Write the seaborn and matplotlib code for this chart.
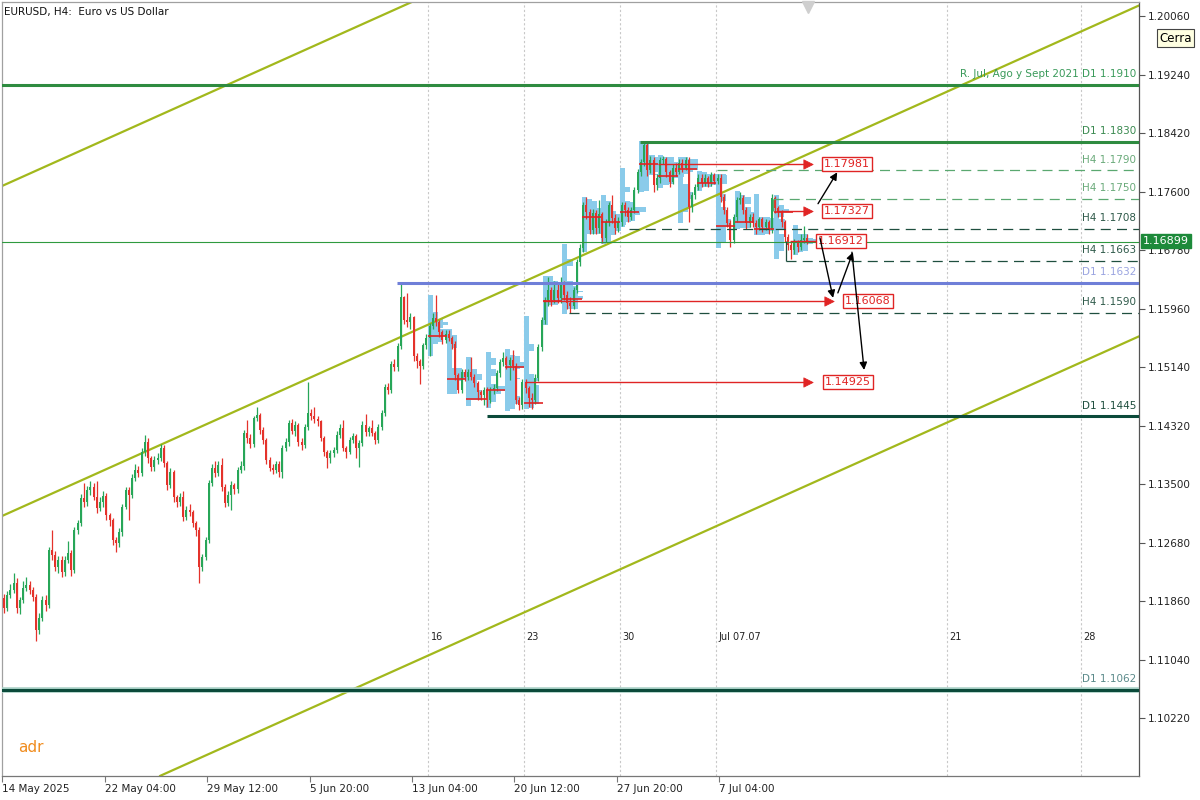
import numpy as np
import pandas as pd
import matplotlib
matplotlib.use('Agg')
import matplotlib.pyplot as plt
import matplotlib.transforms as mtransforms
import seaborn as sns

# ---- datos (precios en puntos de 0.0001) ----
first_open = 11190
close_pts = [
    11176, 11195, 11202, 11212, 11176, 11188, 11204, 11209, 11202, 11192,
    11146, 11163, 11188, 11180, 11258, 11251, 11234, 11244, 11227, 11244,
    11253, 11230, 11286, 11296, 11331, 11325, 11342, 11346, 11332, 11317,
    11325, 11333, 11307, 11300, 11272, 11267, 11283, 11318, 11342, 11335,
    11359, 11370, 11366, 11395, 11409, 11387, 11374, 11384, 11387, 11401,
    11380, 11349, 11367, 11332, 11325, 11332, 11304, 11314, 11311, 11296,
    11286, 11234, 11248, 11272, 11352, 11373, 11366, 11377, 11346, 11323,
    11335, 11349, 11343, 11370, 11375, 11422, 11415, 11406, 11443, 11447,
    11426, 11412, 11384, 11373, 11370, 11378, 11367, 11401, 11409, 11436,
    11425, 11433, 11409, 11405, 11430, 11450, 11445, 11441, 11438, 11415,
    11395, 11387, 11394, 11398, 11419, 11429, 11400, 11395, 11412, 11418,
    11400, 11408, 11433, 11423, 11429, 11422, 11412, 11430, 11450, 11486,
    11482, 11518, 11514, 11544, 11612, 11580, 11577, 11584, 11530, 11523,
    11516, 11545, 11555, 11572, 11583, 11577, 11563, 11552, 11560, 11555,
    11546, 11503, 11482, 11507, 11500, 11507, 11500, 11492, 11479, 11475,
    11482, 11468, 11482, 11485, 11506, 11521, 11527, 11517, 11524, 11516,
    11468, 11461, 11493, 11485, 11471, 11468, 11499, 11542, 11580, 11608,
    11622, 11608, 11622, 11611, 11629, 11615, 11604, 11600, 11622, 11661,
    11681, 11741, 11731, 11706, 11730, 11709, 11729, 11695, 11717, 11741,
    11723, 11709, 11717, 11741, 11734, 11724, 11734, 11762, 11787, 11801,
    11825, 11790, 11804, 11769, 11779, 11804, 11806, 11787, 11773, 11793,
    11787, 11800, 11793, 11804, 11738, 11755, 11766, 11779, 11772, 11779,
    11772, 11783, 11775, 11779, 11752, 11734, 11716, 11692, 11724, 11748,
    11751, 11734, 11716, 11724, 11716, 11710, 11721, 11710, 11717, 11706,
    11751, 11737, 11731, 11717, 11696, 11685, 11678, 11689, 11682, 11692,
    11695, 11690]
high_pts = [
    11196, 11200, 11210, 11225, 11218, 11192, 11214, 11220, 11214, 11206,
    11196, 11170, 11194, 11195, 11262, 11286, 11256, 11250, 11250, 11250,
    11270, 11258, 11290, 11300, 11336, 11352, 11348, 11355, 11352, 11354,
    11332, 11340, 11338, 11310, 11302, 11276, 11288, 11322, 11346, 11346,
    11364, 11378, 11376, 11400, 11419, 11415, 11390, 11390, 11393, 11406,
    11405, 11382, 11373, 11370, 11335, 11338, 11340, 11320, 11322, 11314,
    11298, 11290, 11252, 11276, 11356, 11378, 11383, 11382, 11386, 11350,
    11340, 11355, 11352, 11374, 11382, 11426, 11440, 11420, 11446, 11458,
    11450, 11430, 11415, 11388, 11378, 11382, 11382, 11405, 11414, 11440,
    11442, 11438, 11436, 11414, 11434, 11493, 11455, 11458, 11446, 11440,
    11418, 11398, 11398, 11402, 11424, 11434, 11440, 11404, 11416, 11422,
    11420, 11412, 11438, 11448, 11432, 11440, 11424, 11434, 11454, 11490,
    11492, 11522, 11526, 11548, 11632, 11614, 11618, 11590, 11586, 11534,
    11526, 11548, 11560, 11576, 11590, 11615, 11580, 11566, 11566, 11566,
    11558, 11550, 11506, 11512, 11512, 11512, 11528, 11504, 11495, 11482,
    11486, 11486, 11486, 11490, 11510, 11526, 11535, 11530, 11528, 11538,
    11520, 11472, 11498, 11498, 11488, 11478, 11504, 11546, 11584, 11612,
    11640, 11626, 11635, 11630, 11640, 11634, 11620, 11612, 11626, 11665,
    11686, 11746, 11752, 11735, 11736, 11734, 11748, 11732, 11722, 11746,
    11755, 11728, 11724, 11745, 11746, 11738, 11738, 11766, 11792, 11806,
    11830, 11828, 11810, 11808, 11784, 11808, 11810, 11808, 11790, 11798,
    11800, 11805, 11806, 11808, 11808, 11760, 11770, 11784, 11784, 11784,
    11782, 11788, 11786, 11784, 11784, 11756, 11738, 11720, 11728, 11752,
    11760, 11755, 11738, 11728, 11730, 11720, 11725, 11725, 11722, 11720,
    11756, 11754, 11740, 11734, 11720, 11700, 11690, 11694, 11692, 11700,
    11712, 11700]
low_pts = [
    11170, 11172, 11190, 11198, 11170, 11168, 11184, 11200, 11196, 11186,
    11130, 11140, 11158, 11172, 11176, 11244, 11228, 11225, 11220, 11222,
    11240, 11222, 11226, 11280, 11292, 11318, 11320, 11335, 11328, 11310,
    11312, 11318, 11300, 11292, 11265, 11255, 11262, 11278, 11315, 11300,
    11330, 11355, 11360, 11362, 11390, 11380, 11368, 11368, 11378, 11383,
    11374, 11342, 11345, 11325, 11318, 11320, 11298, 11300, 11305, 11290,
    11278, 11212, 11228, 11244, 11268, 11348, 11360, 11362, 11340, 11318,
    11320, 11314, 11336, 11338, 11365, 11370, 11408, 11400, 11402, 11438,
    11420, 11406, 11378, 11368, 11364, 11366, 11360, 11358, 11396, 11404,
    11420, 11418, 11404, 11398, 11400, 11426, 11440, 11436, 11432, 11410,
    11390, 11373, 11380, 11388, 11394, 11414, 11396, 11386, 11392, 11408,
    11386, 11374, 11404, 11418, 11418, 11418, 11406, 11408, 11426, 11446,
    11476, 11478, 11508, 11508, 11540, 11574, 11570, 11568, 11522, 11513,
    11490, 11512, 11540, 11530, 11568, 11572, 11556, 11546, 11548, 11550,
    11540, 11496, 11478, 11478, 11494, 11496, 11496, 11486, 11468, 11468,
    11461, 11458, 11464, 11476, 11480, 11500, 11516, 11512, 11496, 11510,
    11462, 11454, 11456, 11478, 11458, 11456, 11462, 11494, 11536, 11574,
    11600, 11600, 11604, 11604, 11604, 11608, 11596, 11590, 11596, 11618,
    11655, 11676, 11722, 11700, 11700, 11700, 11702, 11688, 11690, 11712,
    11716, 11700, 11704, 11712, 11726, 11718, 11720, 11730, 11758, 11782,
    11796, 11782, 11786, 11760, 11762, 11772, 11798, 11780, 11766, 11770,
    11782, 11784, 11788, 11790, 11717, 11732, 11750, 11762, 11766, 11768,
    11766, 11768, 11770, 11770, 11746, 11728, 11710, 11682, 11688, 11718,
    11742, 11728, 11708, 11710, 11710, 11700, 11706, 11704, 11706, 11700,
    11702, 11730, 11724, 11710, 11690, 11678, 11666, 11672, 11676, 11678,
    11688, 11686]

last_price = 1.16899

date_tick_bars = [0, 32, 64, 96, 128, 160, 192, 224]
date_tick_labels = ['14 May 2025', '22 May 04:00', '29 May 12:00', '5 Jun 20:00',
                    '13 Jun 04:00', '20 Jun 12:00', '27 Jun 20:00', '7 Jul 04:00']

sep_bars = [132.5, 162.5, 192.5, 222.5, 294.7, 336.6]
sep_labels = ['16', '23', '30', 'Jul 07.07', '21', '28']

price_ticks = [1.20060, 1.19240, 1.18420, 1.17600, 1.16780, 1.15960, 1.15140,
               1.14320, 1.13500, 1.12680, 1.11860, 1.11040, 1.10220]

# niveles horizontales
level_prices = [1.1910, 1.1830, 1.1790, 1.1750, 1.1708, 1.1663, 1.1632, 1.1590, 1.1445, 1.1062]
level_start = [-1, 198.8, 222.8, 240.3, 195.4, 244.4, 122.8, 176.6, 150.9, -1]
level_labels = ['R. Jul, Ago y Sept 2021 D1 1.1910', 'D1 1.1830', 'H4 1.1790', 'H4 1.1750',
                'H4 1.1708', 'H4 1.1663', 'D1 1.1632', 'H4 1.1590', 'D1 1.1445', 'D1 1.1062']
level_kind = ['res', 'd1', 'h4l', 'h4l', 'h4d', 'h4d', 'blue', 'h4d', 'd1d', 'd1d']

# objetivos (lineas rojas)
target_prices = [1.17981, 1.17327, 1.16912, 1.16068, 1.14925]
target_start = [204.4, 241.6, 245.6, 168.5, 162.8]
target_arrow = [251.3, 251.3, None, 257.8, 251.3]
target_box = [256.3, 256.3, 254.4, 262.8, 256.6]

# flechas negras (cola -> punta)
arrow_tail_x = [254.4, 255.0, 260.6, 265.0]
arrow_tail_y = [1.1743, 1.1695, 1.1618, 1.1675]
arrow_head_x = [260.4, 259.1, 265.3, 268.8]
arrow_head_y = [1.1787, 1.1611, 1.1675, 1.1510]

# canal (dos puntos por linea)
channel_p1 = [(0, 1.17690), (0, 1.13066), (0, 1.08430)]
channel_p2 = [(300, 1.23730), (300, 1.19106), (300, 1.14470)]

profile_first_day = 133
bars_per_day = 6

# ---- estilo ----
sns.set_theme(style='white')
plt.rcParams['font.family'] = ['DejaVu Sans']

BULL = '#27a658'
BEAR = '#e4322b'
RED = '#e02424'
CHAN = '#a2b81c'

n = min(len(close_pts), len(high_pts), len(low_pts))
closes = np.array(close_pts[:n]) / 1e4
opens = np.r_[first_open / 1e4, closes[:-1]]
highs = np.maximum(np.array(high_pts[:n]) / 1e4, np.maximum(opens, closes))
lows = np.minimum(np.array(low_pts[:n]) / 1e4, np.minimum(opens, closes))
xs = np.arange(n)

fig = plt.figure(figsize=(12, 8), dpi=100)
ax = fig.add_axes([2 / 1200, 24 / 800, 1137 / 1200, 774 / 800])
ax.set_facecolor('white')
ax.set_xlim(-0.6, 354.7)
ax.set_ylim(1.09411, 1.20256)

# separadores de periodo
xt = mtransforms.blended_transform_factory(ax.transData, ax.transAxes)
for xb, lab in zip(sep_bars, sep_labels):
    ax.axvline(xb, color='#c8c8c8', lw=0.8, ls=(0, (2, 2)), zorder=0)
    ax.text(xb + 0.8, 0.18, lab, transform=xt, fontsize=7, color='#222222',
            va='center', ha='left')

# canal
for p1, p2 in zip(channel_p1, channel_p2):
    ax.axline(p1, p2, color=CHAN, lw=1.6, zorder=2)

# perfiles de volumen por sesion
step = 0.0002
for s in range(profile_first_day, n, bars_per_day):
    lo_d = lows[s:s + bars_per_day]
    hi_d = highs[s:s + bars_per_day]
    levels = np.arange(lo_d.min(), hi_d.max() + step / 2, step)
    counts = np.array([((lo_d <= lv) & (hi_d >= lv)).sum() for lv in levels])
    ax.barh(levels, counts * 1.6, left=s - 0.5, height=step, color='#8acbea',
            linewidth=0, zorder=1)
    poc = levels[np.argmax(counts)]
    ax.hlines(poc, s - 0.5, s + bars_per_day - 0.5, color=RED, lw=1.2, zorder=4)

# velas
up = closes >= opens
for mask, col in [(up, BULL), (~up, BEAR)]:
    ax.vlines(xs[mask], lows[mask], highs[mask], color=col, lw=0.9, zorder=3)
    h = np.abs(closes[mask] - opens[mask])
    h = np.maximum(h, 0.00006)
    ax.bar(xs[mask], h, bottom=np.minimum(opens[mask], closes[mask]), width=0.62,
           color=col, linewidth=0, zorder=3)

# niveles
styles = {
    'res': dict(color='#2e8b40', lw=2.2, ls='-'),
    'd1': dict(color='#2e8b40', lw=2.2, ls='-'),
    'h4l': dict(color='#5aa870', lw=0.9, ls=(0, (8, 5))),
    'h4d': dict(color='#1f4f3f', lw=0.9, ls=(0, (8, 5))),
    'blue': dict(color='#6f7fd8', lw=2.2, ls='-'),
    'd1d': dict(color='#0b4a3a', lw=2.2, ls='-'),
}
text_cols = {'res': '#3a9a5a', 'd1': '#3a8a50', 'h4l': '#6aaa7a', 'h4d': '#2f5a4a',
             'blue': '#9aa4e0', 'd1d': '#1f4f3f'}
for p, s0, lab, k in zip(level_prices, level_start, level_labels, level_kind):
    if k == 'd1d' and s0 < 0:
        ax.hlines(p, -0.6, 354.7, color='#a9d0c6', lw=4.0, zorder=4)
    ax.hlines(p, s0, 354.7, zorder=5, **styles[k])
    tc = '#5a8a8a' if (k == 'd1d' and s0 < 0) else text_cols[k]
    ax.annotate(lab, (353.8, p), xytext=(0, 4), textcoords='offset points',
                ha='right', va='bottom', fontsize=7.5, color=tc, zorder=6)

# pequeñas verticales de inicio de nivel
ax.vlines(240.3, 1.1750, 1.1733, color='#5aa870', lw=0.9, zorder=5)
ax.vlines(244.4, 1.1663, 1.1691, color='#1f4f3f', lw=0.9, zorder=5)

# precio actual
ax.axhline(last_price, color='#2f9a3f', lw=0.8, zorder=4)

# objetivos rojos
tri_x, tri_y = [], []
for p, s0, a, b in zip(target_prices, target_start, target_arrow, target_box):
    end = a if a is not None else b
    ax.hlines(p, s0, end, color=RED, lw=1.0, zorder=6)
    if a is not None:
        tri_x.append(a)
        tri_y.append(p)
    ax.text(b, p, f'{p:.5f}', ha='left', va='center', fontsize=8, color=RED, zorder=8,
            bbox=dict(boxstyle='square,pad=0.18', fc='white', ec=RED, lw=1.0))
sns.scatterplot(x=tri_x, y=tri_y, marker='>', color=RED, s=45, edgecolor=RED,
                ax=ax, zorder=7, legend=False)

for tx, ty, hx, hy in zip(arrow_tail_x, arrow_tail_y, arrow_head_x, arrow_head_y):
    ax.annotate('', xy=(hx, hy), xytext=(tx, ty),
                arrowprops=dict(arrowstyle='-|>', color='black', lw=1.0,
                                mutation_scale=11, shrinkA=0, shrinkB=0), zorder=9)

# marcador de desplazamiento arriba
ax.plot([n - 0.7], [0.993], marker='v', color='#cfcfcf', ms=8, transform=xt,
        clip_on=False, zorder=9)

# ejes
ax.yaxis.tick_right()
ax.set_yticks(price_ticks)
ax.set_yticklabels([f'{v:.5f}' for v in price_ticks])
ax.set_xticks([b - 0.5 for b in date_tick_bars])
ax.set_xticklabels(date_tick_labels, ha='left')
ax.tick_params(axis='y', which='both', direction='out', length=4, width=0.8,
               colors='#555555', labelcolor='#222222', labelsize=7.5, pad=2, right=True, left=False)
ax.tick_params(axis='x', which='both', direction='out', length=4, width=0.8,
               colors='#777777', labelcolor='#222222', labelsize=7.5, pad=2, bottom=True)
for lab in ax.get_xticklabels():
    lab.set_horizontalalignment('left')
ax.grid(False)
ax.spines['left'].set_color('#a0a0a0')
ax.spines['top'].set_color('#a0a0a0')
ax.spines['right'].set_color('#555555')
ax.spines['bottom'].set_color('#777777')
for sp in ax.spines.values():
    sp.set_linewidth(0.9)

# textos de la figura
fig.text(4 / 1200, 1 - 12 / 800, 'EURUSD, H4:  Euro vs US Dollar', fontsize=7.5,
         color='#111111', va='center', ha='left')
fig.text(18 / 1200, 1 - 748 / 800, 'adr', fontsize=11, color='#f08c1e', va='center')
fig.text(1159 / 1200, 1 - 38 / 800, 'Cerra', fontsize=8.5, color='black', va='center',
         bbox=dict(boxstyle='square,pad=0.2', fc='#ffffe1', ec='#444444', lw=0.8))
fig.text(1143 / 1200, 1 - 241 / 800, f'{last_price:.5f}', fontsize=8, color='white',
         va='center', ha='left',
         bbox=dict(boxstyle='square,pad=0.2', fc='#1d8a3a', ec='#1d8a3a'))

fig.savefig('out.png', dpi=100)
